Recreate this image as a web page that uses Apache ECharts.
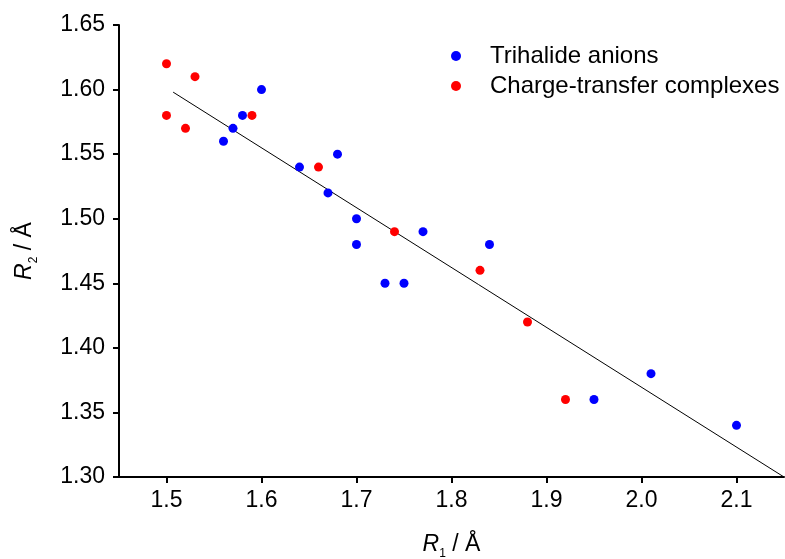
<!DOCTYPE html>
<html>
<head>
<meta charset="utf-8">
<script src="https://cdn.jsdelivr.net/npm/echarts@6/dist/echarts.min.js"></script>
<style>
  html, body { margin: 0; padding: 0; background: #fff; }
  #chart { width: 785px; height: 559px; }
</style>
</head>
<body>
<div id="chart"></div>
<script>
// 数据
const xTicks = [1.5, 1.6, 1.7, 1.8, 1.9, 2.0, 2.1];

const trihalideR1 = [1.56, 1.57, 1.58, 1.60, 1.64, 1.67, 1.68, 1.70, 1.70, 1.73, 1.75, 1.77, 1.84, 1.95, 2.01, 2.10];
const trihalideR2 = [1.56, 1.57, 1.58, 1.60, 1.54, 1.52, 1.55, 1.50, 1.48, 1.45, 1.45, 1.49, 1.48, 1.36, 1.38, 1.34];

const ctR1 = [1.50, 1.50, 1.52, 1.53, 1.59, 1.66, 1.74, 1.83, 1.88, 1.92];
const ctR2 = [1.62, 1.58, 1.57, 1.61, 1.58, 1.54, 1.49, 1.46, 1.42, 1.36];

// 拟合直线两端
const fitR1 = [1.507, 2.15];
const fitR2 = [1.598, 1.30];

const FONT = '"Liberation Sans", Arial, sans-serif';

function pairs(xs, ys) {
    return xs.map((x, i) => [x, ys[i]]);
}

const nameRich = {
    i: { fontStyle: 'italic', fontSize: 23, fontFamily: FONT, color: '#000' },
    s: { fontSize: 12, fontFamily: FONT, color: '#000', padding: [18, 0, 0, 0] },
    n: { fontSize: 23, fontFamily: FONT, color: '#000' }
};

const myChart = echarts.init(document.getElementById('chart'));

const option = {
    animation: false,
    grid: { left: 119, right: 1, top: 25, bottom: 82, outerBoundsMode: 'none' },
    legend: {
        orient: 'vertical',
        left: 446, top: 39,
        icon: 'circle',
        itemWidth: 58, itemHeight: 10, itemGap: 6,
        textStyle: { fontSize: 24, fontFamily: FONT, color: '#000' },
        data: ['Trihalide anions', 'Charge-transfer complexes']
    },
    xAxis: {
        type: 'value',
        min: 1.45, max: 2.15,
        name: '{i|R}{s|1}{n| / Å}',
        nameLocation: 'middle',
        nameGap: 53,
        nameTextStyle: { rich: nameRich },
        splitLine: { show: false },
        axisLine: { onZero: false, lineStyle: { color: '#000', width: 2 } },
        axisTick: { customValues: xTicks, length: 6, lineStyle: { color: '#000', width: 2 } },
        axisLabel: {
            customValues: xTicks,
            margin: 12,
            fontSize: 23, fontFamily: FONT, color: '#000',
            formatter: v => v.toFixed(1)
        }
    },
    yAxis: {
        type: 'value',
        min: 1.30, max: 1.65, interval: 0.05,
        name: '{i|R}{s|2}{n| / Å}',
        nameLocation: 'middle',
        nameGap: 79,
        nameRotate: 90,
        nameTextStyle: { rich: nameRich },
        splitLine: { show: false },
        axisLine: { show: true, onZero: false, lineStyle: { color: '#000', width: 2 } },
        axisTick: { show: true, length: 6, lineStyle: { color: '#000', width: 2 } },
        axisLabel: {
            margin: 14,
            fontSize: 23, fontFamily: FONT, color: '#000',
            formatter: v => v.toFixed(2)
        }
    },
    series: [
        {
            name: 'fit', type: 'line',
            data: pairs(fitR1, fitR2),
            symbol: 'none', silent: true,
            lineStyle: { color: '#000', width: 1 },
            z: 1
        },
        {
            name: 'Trihalide anions', type: 'scatter',
            data: pairs(trihalideR1, trihalideR2),
            symbol: 'circle', symbolSize: 9,
            itemStyle: { color: '#0000ff', opacity: 1 },
            z: 3
        },
        {
            name: 'Charge-transfer complexes', type: 'scatter',
            data: pairs(ctR1, ctR2),
            symbol: 'circle', symbolSize: 9,
            itemStyle: { color: '#ff0000', opacity: 1 },
            z: 3
        }
    ]
};

myChart.setOption(option);
</script>
</body>
</html>
